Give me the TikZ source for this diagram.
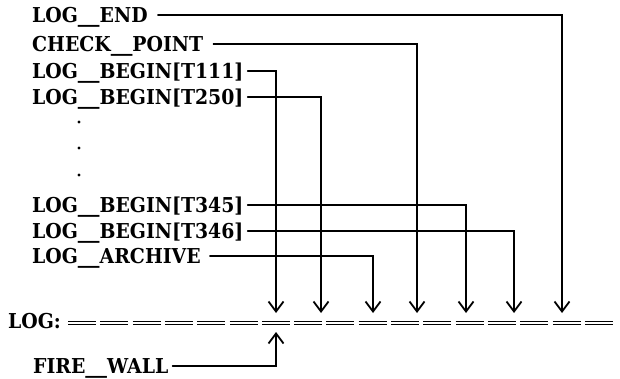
\documentclass[tikz,border=0pt]{standalone}
\usepackage{fontspec}
\setmainfont{DejaVu Serif}[FakeStretch=0.92]
\usepackage{graphicx}
\usetikzlibrary{arrows.meta}
\newcommand\us{\scalebox{2.3}[1]{\_}}

\begin{document}
\begin{tikzpicture}[x=1pt, y=-1pt, line cap=round,
  >={Straight Barb[length=10pt,width=15pt,line width=1.8pt]},
  lbl/.style={anchor=west, inner xsep=4pt, inner ysep=0pt, text height=15pt, text depth=0pt,
    font=\fontsize{20.5}{20.5}\selectfont\bfseries},
  feed/.style={->, line width=1.35pt}]

\useasboundingbox (0,0) rectangle (620,379);

\node[lbl] (end)  at (28,15)  {LOG\us END};
\node[lbl] (chk)  at (28,44)  {CHECK\us POINT};
\node[lbl] (t111) at (28,71)  {LOG\us BEGIN[T111]};
\node[lbl] (t250) at (28,97)  {LOG\us BEGIN[T250]};
\node[lbl] (t345) at (28,205) {LOG\us BEGIN[T345]};
\node[lbl] (t346) at (28,231) {LOG\us BEGIN[T346]};
\node[lbl] (arch) at (28,256) {LOG\us ARCHIVE};
\node[lbl] (log)  at (4,321)  {LOG:};
\node[lbl] (fire) at (29,366) {FIRE\us WALL};

\foreach \y in {122,148,175}
  \fill (79,\y) circle (1.7);

% the log itself
\draw[double, line width=1.2pt, double distance=1.4pt, dash pattern=on 28pt off 4.3pt, line cap=butt]
  (68,323) -- (613,323);

% where each record lands
\coordinate (p1) at (276,313);
\coordinate (p2) at (321,313);
\coordinate (p3) at (373,313);
\coordinate (p4) at (417,313);
\coordinate (p5) at (466,313);
\coordinate (p6) at (514,313);
\coordinate (p7) at (562,313);
\coordinate (fw) at (276,332);

\draw[feed] (t111.east) -| (p1);
\draw[feed] (t250.east) -| (p2);
\draw[feed] ([xshift=5pt]arch.east) -| (p3);
\draw[feed] ([xshift=6pt]chk.east)  -| (p4);
\draw[feed] (t345.east) -| (p5);
\draw[feed] (t346.east) -| (p6);
\draw[feed] ([xshift=6pt]end.east)  -| (p7);
\draw[feed] (fire.east) -| (fw);

\end{tikzpicture}
\end{document}
